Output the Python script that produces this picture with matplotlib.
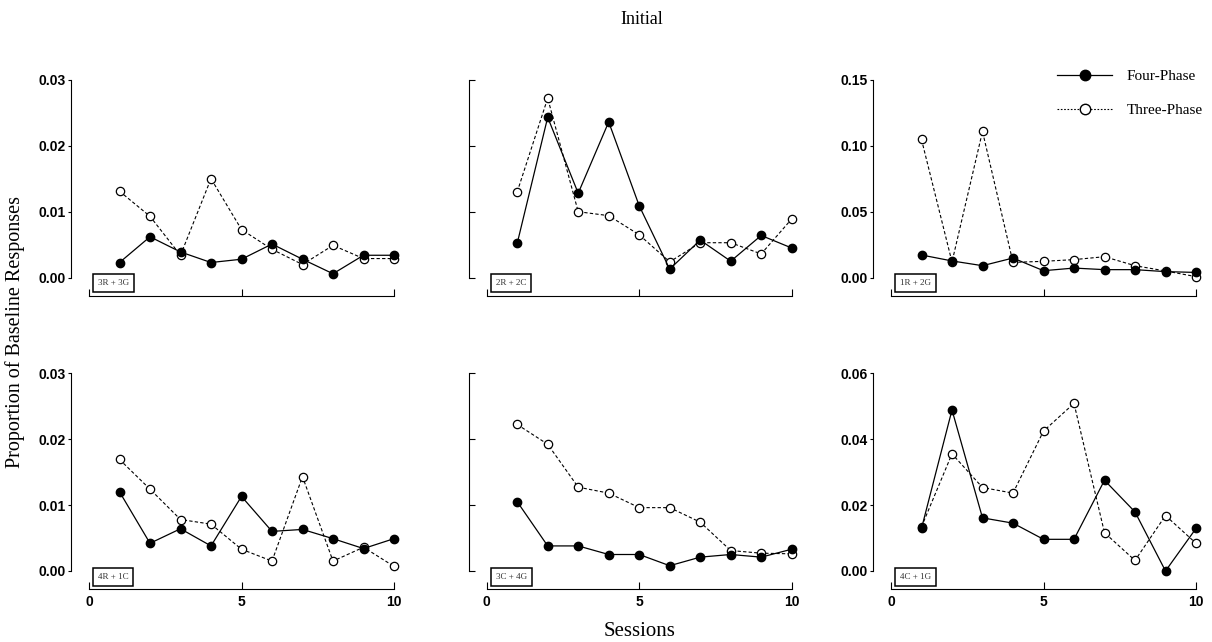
import numpy as np
import matplotlib
matplotlib.use("Agg")
import matplotlib.pyplot as plt
from matplotlib.lines import Line2D

sessions = np.arange(1, 11)

labels = ["3R + 3G", "2R + 2C", "1R + 2G", "4R + 1C", "3C + 4G", "4C + 1G"]

four_3r3g = [0.0023, 0.0062, 0.0039, 0.0023, 0.0028, 0.0051, 0.0028, 0.0006, 0.0034, 0.0034]
three_3r3g = [0.0131, 0.0093, 0.0034, 0.0150, 0.0073, 0.0043, 0.0020, 0.0049, 0.0029, 0.0029]

four_2r2c = [0.0052, 0.0243, 0.0128, 0.0236, 0.0109, 0.0013, 0.0057, 0.0025, 0.0064, 0.0045]
three_2r2c = [0.0130, 0.0272, 0.0100, 0.0094, 0.0065, 0.0024, 0.0053, 0.0053, 0.0036, 0.0089]

four_1r2g = [0.0172, 0.0127, 0.0091, 0.0149, 0.0053, 0.0073, 0.0061, 0.0061, 0.0046, 0.0040]
three_1r2g = [0.1047, 0.0119, 0.1108, 0.0116, 0.0124, 0.0137, 0.0159, 0.0091, 0.0051, 0.0008]

four_4r1c = [0.0120, 0.0042, 0.0064, 0.0038, 0.0113, 0.0060, 0.0063, 0.0049, 0.0034, 0.0049]
three_4r1c = [0.0169, 0.0124, 0.0078, 0.0071, 0.0033, 0.0015, 0.0143, 0.0015, 0.0036, 0.0007]

four_3c4g = [0.0105, 0.0038, 0.0038, 0.0025, 0.0025, 0.0008, 0.0021, 0.0025, 0.0021, 0.0033]
three_3c4g = [0.0222, 0.0192, 0.0127, 0.0118, 0.0096, 0.0096, 0.0074, 0.0031, 0.0027, 0.0026]

four_4c1g = [0.0129, 0.0488, 0.0161, 0.0145, 0.0096, 0.0096, 0.0275, 0.0179, 0.0000, 0.0129]
three_4c1g = [0.0134, 0.0355, 0.0253, 0.0236, 0.0424, 0.0508, 0.0116, 0.0032, 0.0168, 0.0084]

four = [four_3r3g, four_2r2c, four_1r2g, four_4r1c, four_3c4g, four_4c1g]
three = [three_3r3g, three_2r2c, three_1r2g, three_4r1c, three_3c4g, three_4c1g]
ymax = [0.03, 0.03, 0.15, 0.03, 0.03, 0.06]
ystep = [0.01, 0.01, 0.05, 0.01, 0.01, 0.02]

serif = "Liberation Serif"
sans = "Liberation Sans"

fig = plt.figure(figsize=(12.12, 6.42), dpi=100)

lefts = [89 / 1212, 486.7 / 1212, 891 / 1212]
bottoms = [1 - 277.7 / 642, 1 - 571 / 642]
w = 305 / 1212
h = 198 / 642

for i in range(6):
    row, col = divmod(i, 3)
    ax = fig.add_axes([lefts[col], bottoms[row], w, h])
    ax.plot(sessions, three[i], ls=(0, (3, 2)), lw=0.8, c='k', marker='o',
            ms=6, mfc='white', mec='k', mew=0.9, zorder=3, clip_on=False)
    ax.plot(sessions, four[i], ls='-', lw=0.9, c='k', marker='o',
            ms=6, mfc='k', mec='k', zorder=4, clip_on=False)
    ax.set_xlim(0, 10)
    ax.set_ylim(0, ymax[i])
    for s in ['top', 'right']:
        ax.spines[s].set_visible(False)
    ax.spines['left'].set_position(('outward', 13))
    ax.spines['bottom'].set_position(('outward', 13))
    ax.spines['left'].set_bounds(0, ymax[i])
    ax.spines['bottom'].set_bounds(0, 10)
    ax.set_xticks([0, 5, 10])
    ax.set_yticks(np.arange(0, ymax[i] + 1e-9, ystep[i]))
    ax.tick_params(axis='x', direction='in', length=5, width=0.8, pad=4)
    if col == 1:
        ax.tick_params(axis='y', direction='in', length=4, width=0.8, labelleft=False)
    else:
        ax.tick_params(axis='y', direction='out', length=2.5, width=0.8, pad=1)
        ax.set_yticklabels(["%.2f" % v for v in ax.get_yticks()],
                           fontfamily=sans, fontweight='bold', fontsize=10)
    if row == 0:
        ax.tick_params(axis='x', labelbottom=False)
    else:
        ax.set_xticklabels(["0", "5", "10"], fontfamily=sans, fontweight='bold', fontsize=10)
    ax.text(0.029, -0.029, labels[i], transform=ax.transAxes, fontfamily=serif,
            fontsize=6.5, ha='left', va='center', color='#333333',
            bbox=dict(boxstyle='square,pad=0.55', fc='white', ec='k', lw=1.1))
    if i == 2:
        handles = [Line2D([], [], c='k', lw=0.9, marker='o', ms=7.5, mfc='k'),
                   Line2D([], [], c='k', lw=0.8, ls=(0, (1.5, 1.5)), marker='o', ms=7.5, mfc='white')]
        ax.legend(handles, ["Four-Phase", "Three-Phase"], loc='upper left',
                  bbox_to_anchor=(0.50, 1.12), frameon=False,
                  prop={'family': serif, 'size': 11}, handlelength=3.6,
                  labelspacing=1.3, handletextpad=0.95)

fig.text(642 / 1212, 1 - 20 / 642, "Initial", fontfamily=serif, fontsize=13,
         ha='center', va='center')
fig.text(15 / 1212, 1 - 332 / 642, "Proportion of Baseline Responses",
         fontfamily=serif, fontsize=14.5, rotation=90, ha='center', va='center')
fig.text(640 / 1212, 1 - 632 / 642, "Sessions", fontfamily=serif, fontsize=15,
         ha='center', va='center')

fig.savefig("out.png", dpi=100)
